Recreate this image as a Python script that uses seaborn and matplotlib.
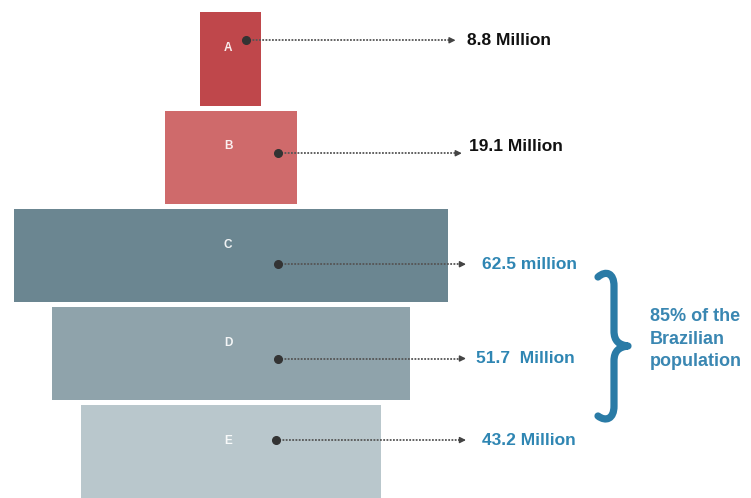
import numpy as np
import pandas as pd
import seaborn as sns
import matplotlib
matplotlib.use("Agg")
import matplotlib.pyplot as plt
from matplotlib.path import Path
from matplotlib.patches import PathPatch

# ---- data ----
classes = ["A", "B", "C", "D", "E"]
population = [8.8, 19.1, 62.5, 51.7, 43.2]          # millions
value_labels = ["8.8 Million", "19.1 Million", "62.5 million", "51.7  Million", "43.2 Million"]
brace_note = "85% of the\nBrazilian\npopulation"

# ---- styles / layout ----
bar_colors = ["#bf474b", "#cf6a6b", "#6b8691", "#8fa3ab", "#b9c7cc"]
label_colors = ["#111111", "#111111", "#2f86b3", "#2f86b3", "#2f86b3"]
dot_x = [2.2, 6.8, 6.8, 6.8, 6.5]
dot_dy = [-0.19, -0.04, 0.09, 0.05, -0.12]
arrow_end = [32.4, 33.3, 33.9, 33.9, 33.9]
text_x = [34.0, 34.4, 36.2, 35.3, 36.2]
text_dy = [-0.19, -0.11, 0.09, 0.05, -0.12]

sns.set_theme(style="white")
plt.rcParams["font.family"] = ["Liberation Sans Narrow", "Liberation Sans", "DejaVu Sans"]

W, H = 751, 498
fig = plt.figure(figsize=(W / 100, H / 100), dpi=100)
ax = fig.add_axes([0, 0, 1, 1])

df = pd.DataFrame({"cls": classes, "pop": population})
sns.barplot(data=df, x="pop", y="cls", hue="cls", palette=bar_colors, orient="h",
            width=0.95, legend=False, linewidth=0, ax=ax, saturation=1)
# centre each bar on zero to form the funnel
for p in ax.patches:
    p.set_x(-p.get_width() / 2)
    p.set_linewidth(0)

ax.set_xlim(-33.3, 75.0)
ax.set_ylim(4.47, -0.60)
ax.axis("off")

for i, c in enumerate(classes):
    ax.text(-0.4, i - 0.11, c, color="white", fontsize=8.5, fontweight="bold",
            ha="center", va="center", alpha=0.9)
    y = i + dot_dy[i]
    ax.plot([dot_x[i], arrow_end[i] - 0.5], [y, y], ls=(0, (1, 0.8)), color="#555555", lw=1.3)
    ax.plot([dot_x[i]], [y], "o", color="#333333", ms=5.5)
    ax.annotate("", xy=(arrow_end[i], y), xytext=(arrow_end[i] - 0.8, y),
                arrowprops=dict(arrowstyle="-|>", color="#444444", lw=1, mutation_scale=9,
                                shrinkA=0, shrinkB=0))
    ax.text(text_x[i], i + text_dy[i], value_labels[i], color=label_colors[i],
            fontsize=12.5, fontweight="bold", ha="left", va="center")

# brace (figure pixel coords, y down)
def P(x, y):
    return (x / W, 1 - y / H)

verts = [P(598, 277), P(606, 270), P(614, 273), P(614, 286),
         P(614, 331),
         P(614, 341), P(619, 345), P(628, 346),
         P(619, 347), P(614, 351), P(614, 361),
         P(614, 406),
         P(614, 419), P(606, 422), P(598, 416)]
codes = [Path.MOVETO, Path.CURVE4, Path.CURVE4, Path.CURVE4,
         Path.LINETO,
         Path.CURVE4, Path.CURVE4, Path.CURVE4,
         Path.CURVE4, Path.CURVE4, Path.CURVE4,
         Path.LINETO,
         Path.CURVE4, Path.CURVE4, Path.CURVE4]
brace = PathPatch(Path(verts, codes), transform=fig.transFigure, facecolor="none",
                  edgecolor="#2a7ba6", lw=5.2, capstyle="round", joinstyle="round")
fig.patches.append(brace)

fig.text(650 / W, 1 - 339 / H, brace_note, color="#3a87b2", fontsize=13,
         fontweight="bold", ha="left", va="center", linespacing=1.4)

fig.savefig("out.png", dpi=100, facecolor="white")
